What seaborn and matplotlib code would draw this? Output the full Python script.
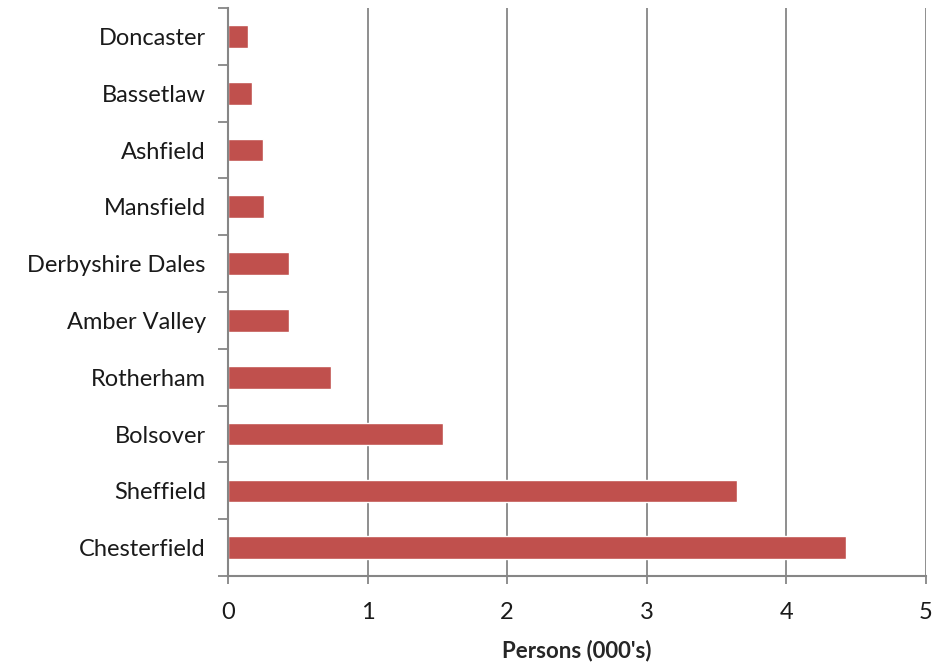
import matplotlib
matplotlib.use("Agg")
import matplotlib.pyplot as plt
import seaborn as sns
import pandas as pd
import numpy as np

districts = ["Doncaster", "Bassetlaw", "Ashfield", "Mansfield", "Derbyshire Dales",
             "Amber Valley", "Rotherham", "Bolsover", "Sheffield", "Chesterfield"]
persons = [0.145, 0.175, 0.25, 0.255, 0.435, 0.44, 0.735, 1.54, 3.645, 4.43]

df = pd.DataFrame({"district": districts, "persons": persons})

sns.set_style("white")
plt.rcParams["font.family"] = ["Lato", "DejaVu Sans"]

fig, ax = plt.subplots(figsize=(9.51, 6.66), dpi=100)
fig.subplots_adjust(left=0.2397, right=0.9737, top=0.988, bottom=0.135)

sns.barplot(data=df, x="persons", y="district", order=districts,
            color="#C0504D", saturation=1, width=0.4, orient="h", ax=ax)

grid_c = "#868686"
ax.set_xlim(0, 5)
ax.set_ylim(len(districts) - 0.5, -0.5)
ax.set_xticks(range(6))
ax.xaxis.grid(True, color=grid_c, linewidth=1.3)
ax.set_axisbelow(True)

for s in ["top", "right"]:
    ax.spines[s].set_visible(False)
for s in ["left", "bottom"]:
    ax.spines[s].set_color(grid_c)
    ax.spines[s].set_linewidth(1.5)

ax.set_yticks(np.arange(-0.5, len(districts), 1), minor=True)
ax.tick_params(axis="y", which="major", left=False, length=0, labelsize=17, pad=16,
               labelcolor="#1a1a1a")
ax.tick_params(axis="y", which="minor", left=True, length=7, width=1.3, color=grid_c,
               direction="out")
ax.tick_params(axis="x", which="major", bottom=True, length=6, width=1.3, color=grid_c,
               labelsize=17, pad=13, labelcolor="#1a1a1a")

ax.set_ylabel("")
ax.set_xlabel("Persons (000's)", fontsize=16, fontweight="bold", labelpad=12)

fig.savefig("out.png", dpi=100)
